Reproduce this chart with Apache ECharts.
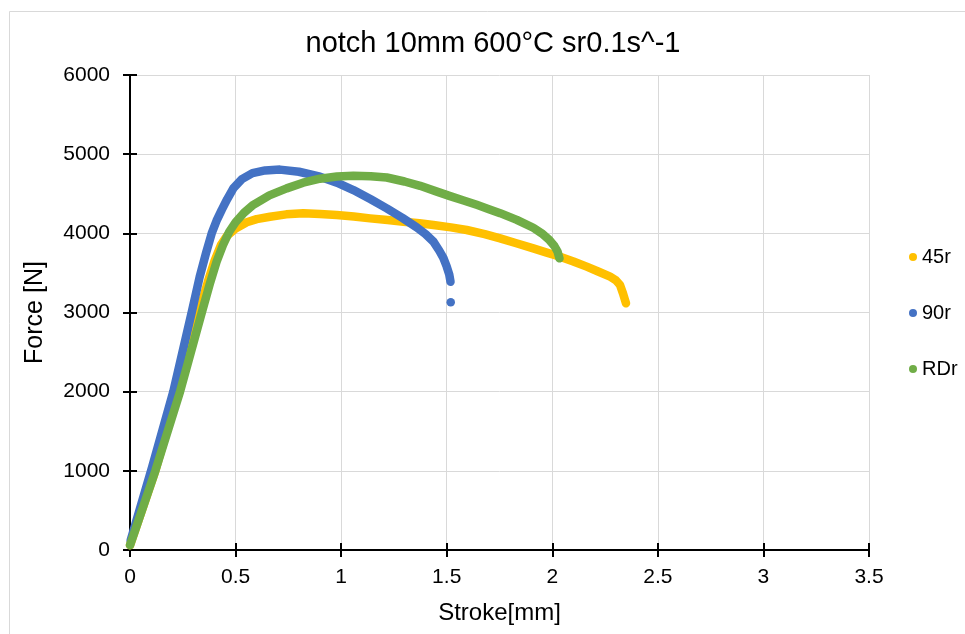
<!DOCTYPE html>
<html>
<head>
<meta charset="utf-8">
<title>notch 10mm 600°C sr0.1s^-1</title>
<script src="https://cdn.jsdelivr.net/npm/echarts@6/dist/echarts.min.js"></script>
<style>
  html, body { margin: 0; padding: 0; background: #fff; }
  #chart { width: 965px; height: 634px; }
</style>
</head>
<body>
<div id="chart"></div>
<script>
// Force–stroke curves, [stroke mm, force N]
const seriesNames = ['45r', '90r', 'RDr'];
const seriesColors = ['#FFC000', '#4472C4', '#70AD47'];

const curve45r = [
  [0.0, 60], [0.05, 450], [0.12, 1000], [0.228, 2000], [0.327, 3000],
  [0.37, 3400], [0.40, 3650], [0.43, 3850], [0.46, 3970], [0.50, 4060],
  [0.553, 4140], [0.60, 4180], [0.663, 4210], [0.74, 4240], [0.821, 4253],
  [0.90, 4245], [0.979, 4231], [1.06, 4212], [1.137, 4189], [1.22, 4168],
  [1.295, 4147], [1.37, 4128], [1.437, 4105], [1.52, 4075], [1.595, 4042],
  [1.68, 3990], [1.753, 3937], [1.83, 3875], [1.910, 3810], [1.97, 3760],
  [2.037, 3705], [2.10, 3645], [2.163, 3579], [2.22, 3515], [2.274, 3452],
  [2.30, 3410], [2.321, 3347], [2.335, 3240], [2.349, 3116]
];

const curve90r = [
  [0.003, 120], [0.105, 1050], [0.205, 2000], [0.292, 3000],
  [0.33, 3450], [0.36, 3750], [0.387, 4000], [0.41, 4160], [0.435, 4300],
  [0.46, 4430], [0.49, 4570], [0.53, 4685], [0.58, 4760], [0.64, 4795],
  [0.71, 4805], [0.80, 4778], [0.90, 4716], [0.98, 4640], [1.058, 4547],
  [1.14, 4430], [1.216, 4315], [1.29, 4195], [1.358, 4075], [1.40, 3990],
  [1.437, 3895], [1.465, 3780], [1.484, 3690], [1.50, 3580], [1.512, 3480],
  [1.518, 3389]
];
// last reading after the fracture drop
const tail90r = [1.519, 3128];

const curveRDr = [
  [0.0, 60], [0.05, 450], [0.12, 1000], [0.237, 2000], [0.34, 3000],
  [0.38, 3380], [0.41, 3640], [0.44, 3850], [0.47, 4020], [0.50, 4140],
  [0.54, 4260], [0.584, 4360], [0.66, 4480], [0.742, 4568], [0.82, 4640],
  [0.90, 4690], [0.98, 4718], [1.058, 4728], [1.14, 4722], [1.216, 4705],
  [1.30, 4655], [1.374, 4600], [1.45, 4530], [1.516, 4470], [1.58, 4415],
  [1.642, 4360], [1.70, 4305], [1.753, 4255], [1.832, 4170], [1.910, 4070],
  [1.95, 4000], [1.985, 3920], [2.01, 3840], [2.025, 3770], [2.034, 3684]
];

const xTicks = { min: 0, max: 3.5, interval: 0.5 };
const yTicks = { min: 0, max: 6000, interval: 1000 };

const chart = echarts.init(document.getElementById('chart'), null, { renderer: 'canvas' });

const FONT = 'Liberation Sans, Arial, sans-serif';
const LINE_W = 8.5;

function curveSeries(name, color, data) {
  return {
    name: name,
    type: 'line',
    xAxisIndex: 0,
    yAxisIndex: 0,
    data: data,
    symbol: 'none',
    smooth: false,
    connectNulls: false,
    lineStyle: { color: color, width: LINE_W, cap: 'round', join: 'round' },
    itemStyle: { color: color },
    emphasis: { disabled: true },
    animation: false
  };
}

const data90 = curve90r.slice();
data90.push('-');
data90.push({ value: tail90r, symbol: 'circle', symbolSize: LINE_W });

const option = {
  backgroundColor: '#ffffff',
  animation: false,
  title: {
    text: 'notch 10mm 600°C sr0.1s^-1',
    left: 488,
    top: 24,
    textAlign: 'center',
    textStyle: { fontFamily: FONT, fontSize: 29, fontWeight: 'normal', color: '#000' }
  },
  legend: {
    orient: 'vertical',
    left: 904,
    top: 242,
    itemWidth: 8,
    itemHeight: 8,
    itemGap: 36,
    icon: 'circle',
    data: seriesNames.map((n, i) => ({ name: n, itemStyle: { color: seriesColors[i] } })),
    textStyle: { fontFamily: FONT, fontSize: 20, color: '#000', lineHeight: 20, padding: [0, 0, 0, 0] },
    selectedMode: false
  },
  grid: { left: 130, right: 96, top: 75, bottom: 84 },
  xAxis: [
    {
      type: 'value',
      min: xTicks.min, max: xTicks.max, interval: xTicks.interval,
      name: 'Stroke[mm]',
      nameLocation: 'middle',
      nameGap: 51,
      nameTextStyle: { fontFamily: FONT, fontSize: 24, color: '#000' },
      axisLine: { show: true, onZero: false, lineStyle: { color: '#000', width: 2 } },
      axisTick: { show: true, inside: false, length: 7, lineStyle: { color: '#000', width: 2 } },
      axisLabel: { margin: 17, fontFamily: FONT, fontSize: 21, color: '#000' },
      splitLine: { show: true, lineStyle: { color: '#d9d9d9', width: 1 } }
    },
    {
      type: 'value',
      position: 'bottom',
      min: xTicks.min, max: xTicks.max, interval: xTicks.interval,
      axisLine: { show: false, onZero: false },
      axisTick: { show: true, inside: true, length: 7, lineStyle: { color: '#000', width: 2 } },
      axisLabel: { show: false },
      splitLine: { show: false }
    }
  ],
  yAxis: [
    {
      type: 'value',
      min: yTicks.min, max: yTicks.max, interval: yTicks.interval,
      name: 'Force [N]',
      nameLocation: 'middle',
      nameGap: 82,
      nameTextStyle: { fontFamily: FONT, fontSize: 25, color: '#000' },
      axisLine: { show: true, onZero: false, lineStyle: { color: '#000', width: 2 } },
      axisTick: { show: true, inside: false, length: 7, lineStyle: { color: '#000', width: 2 } },
      axisLabel: { margin: 20, fontFamily: FONT, fontSize: 21, color: '#000', formatter: v => String(v) },
      splitLine: { show: true, lineStyle: { color: '#d9d9d9', width: 1 } }
    },
    {
      type: 'value',
      position: 'left',
      min: yTicks.min, max: yTicks.max, interval: yTicks.interval,
      axisLine: { show: false, onZero: false },
      axisTick: { show: true, inside: true, length: 7, lineStyle: { color: '#000', width: 2 } },
      axisLabel: { show: false },
      splitLine: { show: false }
    }
  ],
  graphic: [
    {
      type: 'rect',
      left: 7, top: 9,
      shape: { width: 1000, height: 700 },
      style: { fill: 'none', stroke: '#d9d9d9', lineWidth: 1 },
      silent: true,
      z: -10
    }
  ],
  series: [
    curveSeries(seriesNames[0], seriesColors[0], curve45r),
    curveSeries(seriesNames[1], seriesColors[1], data90),
    curveSeries(seriesNames[2], seriesColors[2], curveRDr)
  ]
};

chart.setOption(option);
</script>
</body>
</html>
